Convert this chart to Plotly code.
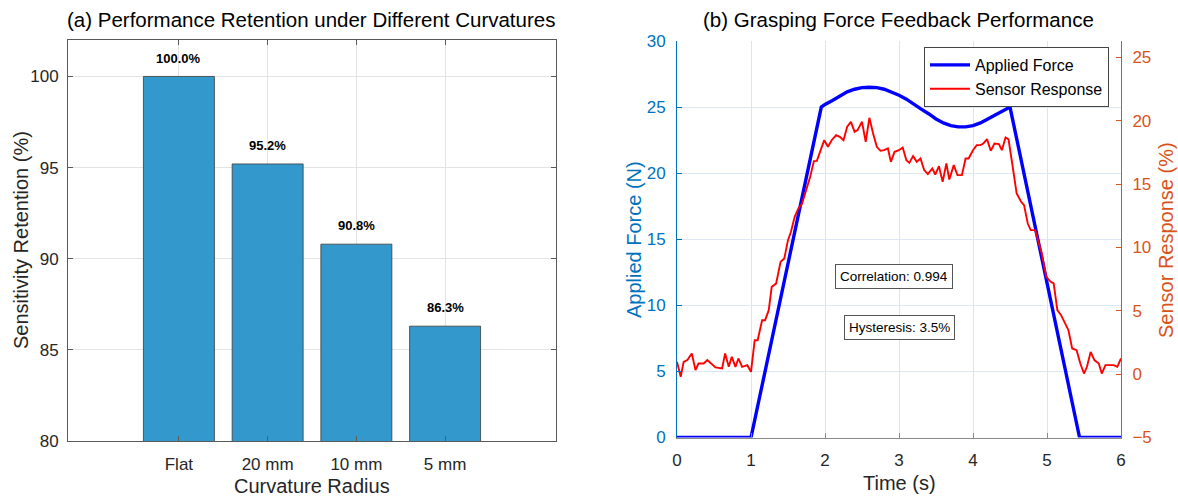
import plotly.graph_objects as go

# ---------------- data ----------------
categories = ["Flat", "20 mm", "10 mm", "5 mm"]
retention = [100.0, 95.2, 90.8, 86.3]

force_time = [0.0, 1.0, 1.95, 2.0, 2.1, 2.2, 2.3, 2.4, 2.5, 2.6, 2.7, 2.8, 2.9, 3.0,
              3.1, 3.2, 3.3, 3.4, 3.5, 3.6, 3.7, 3.8, 3.9, 4.0, 4.1, 4.2, 4.3, 4.4,
              4.5, 5.44, 6.0]
applied_force = [0.0, 0.0, 25.0, 25.2, 25.5, 25.85, 26.15, 26.35, 26.47, 26.5, 26.47,
                 26.35, 26.15, 25.9, 25.6, 25.2, 24.85, 24.5, 24.1, 23.8, 23.6, 23.5,
                 23.5, 23.6, 23.8, 24.1, 24.4, 24.7, 25.0, 0.0, 0.0]

sensor_time = [0.00, 0.05, 0.09, 0.14, 0.20, 0.25, 0.29, 0.36, 0.41, 0.45, 0.52, 0.61,
               0.65, 0.70, 0.74, 0.79, 0.83, 0.88, 0.95, 1.00, 1.05, 1.09, 1.15, 1.19,
               1.24, 1.28, 1.34, 1.40, 1.45, 1.50, 1.54, 1.59, 1.64, 1.69, 1.76, 1.80,
               1.85, 1.89, 1.95, 1.99, 2.04, 2.09, 2.15, 2.20, 2.25, 2.30, 2.35, 2.40,
               2.44, 2.50, 2.55, 2.60, 2.65, 2.70, 2.75, 2.80, 2.85, 2.89, 2.94, 3.00,
               3.05, 3.10, 3.14, 3.19, 3.24, 3.29, 3.34, 3.39, 3.45, 3.49, 3.54, 3.59,
               3.64, 3.68, 3.74, 3.79, 3.85, 3.90, 3.94, 4.00, 4.05, 4.10, 4.14, 4.19,
               4.24, 4.29, 4.35, 4.39, 4.44, 4.48, 4.53, 4.59, 4.65, 4.69, 4.74, 4.78,
               4.84, 4.89, 4.93, 4.99, 5.05, 5.09, 5.14, 5.19, 5.25, 5.29, 5.34, 5.40,
               5.45, 5.50, 5.54, 5.59, 5.64, 5.70, 5.74, 5.79, 5.85, 5.90, 5.95, 6.00]
sensor_response = [0.97, -0.21, 0.97, 1.11, 1.63, 0.32, 0.84, 0.84, 1.11, 0.89, 0.53, 0.45,
                   1.63, 0.58, 1.37, 0.58, 1.24, 0.58, 0.71, 0.18, 2.68, 2.68, 4.26, 4.26,
                   5.05, 6.89, 7.16, 8.87, 9.13, 10.58, 11.24, 12.42, 13.08, 13.47, 14.79, 15.58,
                   16.82, 16.84, 17.82, 18.47, 17.95, 18.47, 18.87, 18.74, 18.47, 19.53, 19.92, 19.13,
                   19.26, 19.92, 18.34, 20.24, 19.0, 17.95, 17.63, 17.68, 17.82, 16.76, 17.55, 17.68,
                   17.89, 16.89, 16.68, 17.21, 16.76, 17.03, 16.11, 15.79, 16.24, 15.76, 16.42, 15.18,
                   16.63, 15.37, 16.5, 15.71, 15.71, 17.03, 17.03, 17.68, 18.08, 18.08, 18.21, 18.55,
                   17.63, 18.21, 18.16, 17.68, 18.68, 18.53, 16.63, 14.26, 13.61, 13.34, 11.89, 11.37,
                   11.37, 10.32, 9.53, 7.68, 7.29, 7.16, 5.05, 4.66, 4.0, 3.47, 2.03, 1.89,
                   0.84, 0.05, 0.58, 1.76, 1.11, 0.84, 0.05, 0.71, 0.71, 0.71, 0.58, 1.24]

title_a = "(a) Performance Retention under Different Curvatures"
title_b = "(b) Grasping Force Feedback Performance"
correlation_text = "Correlation: 0.994"
hysteresis_text = "Hysteresis: 3.5%"

# ---------------- style ----------------
W, H = 1178, 496
FONT = "Liberation Sans, Arial, Helvetica, sans-serif"
DARK = "#262626"
BLUE_AX = "#0072BD"
ORANGE_AX = "#D95319"
BAR = "#3399CC"
TICK = 17
LABEL = 20


def px_x(p):
    return p / W


def px_y(p):
    return 1 - p / H


fig = go.Figure()

fig.add_trace(go.Bar(
    x=categories, y=retention, marker=dict(color=BAR, line=dict(color="#3a3a3a", width=0.8)),
    width=0.8, showlegend=False, xaxis="x", yaxis="y", hoverinfo="x+y"))

fig.add_trace(go.Scatter(
    x=force_time, y=applied_force, mode="lines", name="Applied Force",
    line=dict(color="#0000FF", width=3.4), xaxis="x2", yaxis="y2"))
fig.add_trace(go.Scatter(
    x=sensor_time, y=sensor_response, mode="lines", name="Sensor Response",
    line=dict(color="#FF0000", width=1.9), xaxis="x2", yaxis="y3"))

grid = "#E3E3E3"
tickfont = dict(family=FONT, size=TICK, color=DARK)

left_dom_x = [px_x(68), px_x(556)]
left_dom_y = [px_y(441), px_y(40)]
right_dom_x = [px_x(677), px_x(1121)]
right_dom_y = [px_y(437.5), px_y(41)]

fig.update_layout(
    width=W, height=H, margin=dict(l=0, r=0, t=0, b=0),
    paper_bgcolor="white", plot_bgcolor="white",
    font=dict(family=FONT, color=DARK),
    bargap=0.2,
    xaxis=dict(domain=left_dom_x, anchor="y", range=[-1.25, 4.25], type="category",
               showgrid=True, gridcolor=grid, showline=True, linecolor="#5a5a5a", linewidth=1,
               mirror="ticks", ticks="inside", ticklen=5, tickcolor="#5a5a5a",
               tickfont=tickfont, ticklabelstandoff=8, zeroline=False, automargin=False),
    yaxis=dict(domain=left_dom_y, anchor="x", range=[80, 102], tickvals=[80, 85, 90, 95, 100],
               showgrid=True, gridcolor=grid, showline=True, linecolor="#5a5a5a", linewidth=1,
               mirror="ticks", ticks="inside", ticklen=5, tickcolor="#5a5a5a",
               tickfont=tickfont, ticklabelstandoff=5, zeroline=False, automargin=False),
    xaxis2=dict(domain=right_dom_x, anchor="y2", range=[0, 6], dtick=1,
                showgrid=True, gridcolor=grid, showline=True, linecolor="#8a8a8a", linewidth=1,
                ticks="inside", ticklen=5, tickcolor="#8a8a8a",
                tickfont=tickfont, ticklabelstandoff=7, zeroline=False, automargin=False),
    yaxis2=dict(domain=right_dom_y, anchor="x2", range=[0, 30], dtick=5,
                showgrid=True, gridcolor="#DCE9F4", showline=True, linecolor=BLUE_AX, linewidth=1,
                ticks="inside", ticklen=5, tickcolor=BLUE_AX,
                tickfont=dict(family=FONT, size=TICK, color=BLUE_AX), ticklabelstandoff=7,
                zeroline=False, automargin=False),
    yaxis3=dict(overlaying="y2", anchor="x2", side="right", range=[-5, 26.3], dtick=5,
                showgrid=False, showline=True, linecolor=ORANGE_AX, linewidth=1,
                ticks="inside", ticklen=5, tickcolor=ORANGE_AX,
                tickfont=dict(family=FONT, size=TICK, color=ORANGE_AX), ticklabelstandoff=7,
                zeroline=False, automargin=False),
    legend=dict(x=px_x(1109), y=px_y(47), xanchor="right", yanchor="top",
                bgcolor="white", bordercolor="#444444", borderwidth=1,
                font=dict(family=FONT, size=16, color="black"), tracegroupgap=0,
                itemwidth=40),
)

ann = []


def paper_text(text, x, y, size, color, angle=0):
    return dict(text=text, x=px_x(x), y=px_y(y), xref="paper", yref="paper",
                xanchor="center", yanchor="middle", showarrow=False, textangle=angle,
                font=dict(family=FONT, size=size, color=color))


ann.append(paper_text(title_a, 311, 20, 20.5, "black"))
ann.append(paper_text(title_b, 898, 20, 20.5, "black"))
ann.append(paper_text("Sensitivity Retention (%)", 21, 240, LABEL, DARK, -90))
ann.append(paper_text("Curvature Radius", 312, 486, LABEL, DARK))
ann.append(paper_text("Applied Force (N)", 634, 240, LABEL, BLUE_AX, -90))
ann.append(paper_text("Sensor Response (%)", 1166, 240, LABEL, ORANGE_AX, -90))
ann.append(paper_text("Time (s)", 899, 483, LABEL, DARK))

for c, v in zip(categories, retention):
    ann.append(dict(text="<b>%.1f%%</b>" % v, x=c, y=v + 1.0, xref="x", yref="y",
                    xanchor="center", yanchor="middle", showarrow=False,
                    font=dict(family=FONT, size=13, color="black")))

for text, tx, ty in [(correlation_text, 2.93, 12.17), (hysteresis_text, 3.0, 8.34)]:
    ann.append(dict(text=text, x=tx, y=ty, xref="x2", yref="y2", showarrow=False,
                    xanchor="center", yanchor="middle",
                    bgcolor="white", bordercolor="#555555", borderwidth=1, borderpad=4,
                    font=dict(family=FONT, size=13.5, color="black")))
fig.update_layout(annotations=ann)

fig.write_html("out.html", config={"displayModeBar": False},
               post_script="document.body.style.margin='0px';")
